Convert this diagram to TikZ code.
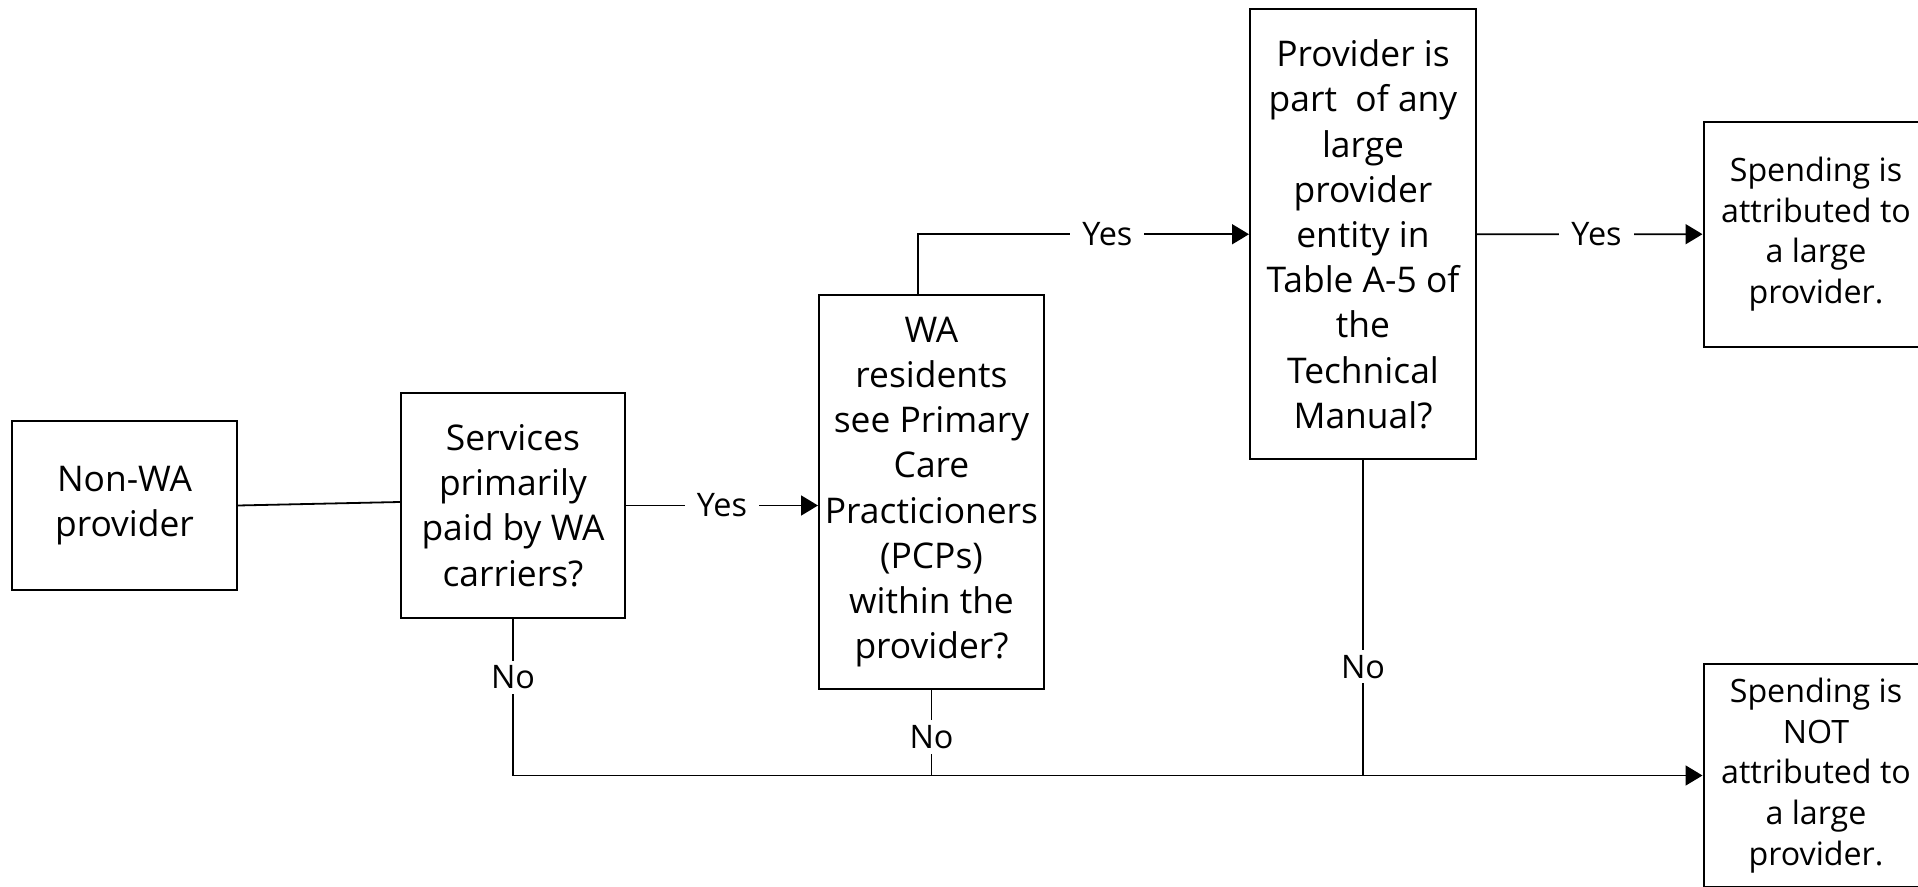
\documentclass[tikz,border=0pt]{standalone}
\usepackage{fontspec}
\setmainfont{Open Sans}
\usetikzlibrary{arrows.meta}
\tikzset{
  box/.style={draw, line width=1pt, align=center, inner sep=0pt,
    font=\fontsize{17.7pt}{22.6pt}\selectfont},
  endbox/.style={box, font=\fontsize{16.1pt}{20.3pt}\selectfont},
  lbl/.style={fill=white, inner xsep=6pt, inner ysep=2.5pt,
    font=\fontsize{16.2pt}{18pt}\selectfont},
}
\begin{document}
\begin{tikzpicture}[->, >={Triangle[length=8.5pt, width=10pt]}, line width=0.9pt, x=0.5pt, y=-0.5pt]
\useasboundingbox (0,0) rectangle (1918,887);
\clip (0,0) rectangle (1918,887);
% Nodes
\node [box, minimum width=112.5pt, minimum height=84.5pt] (nonwa) at (124.5,505.5) {Non-WA\\provider};
\node [box, minimum width=112pt, minimum height=112.5pt] (paid) at (513,505.5) {Services\\primarily\\paid by WA\\carriers?};
\node [box, minimum width=112.5pt, minimum height=197pt] (pcp) at (931.5,492) {WA\\residents\\see Primary\\Care\\Practicioners\\(PCPs)\\within the\\provider?};
\node [box, minimum width=113pt, minimum height=224.75pt] (entity) at (1363,234.25) {Provider is\\part\ \ of any\\large\\provider\\entity in\\Table A-5 of\\the\\Technical\\Manual?};
\node [endbox, minimum width=112.5pt, minimum height=112.5pt] (large) at (1816,234.2) {Spending is\\attributed to\\a large\\provider.};
\node [endbox, minimum width=112.5pt, minimum height=111.5pt] (notlarge) at (1816,775.5) {Spending is\\NOT\\attributed to\\a large\\provider.};
% Edges
% ---
% Yes
% ---
\draw [-] (nonwa.east) -- ([yshift=1.75pt]paid.west);
\draw (paid.east) -- node [lbl] {Yes} (paid.east -| pcp.west);
\draw ([xshift=-6.75pt]pcp.north) |- node [lbl, pos=0.786] {Yes} (entity.west);
\draw (entity.east) -- node [lbl, pos=0.53] {Yes} (large.west);
% ---
% No
% ---
\draw (paid.south) |- node [lbl, pos=0.187] {No} (notlarge.west);
\draw [-] (pcp.south) -- node [lbl, pos=0.55] {No} (pcp.south |- notlarge.west);
\draw [-] (entity.south) -- node [lbl, pos=0.655] {No} (entity.south |- notlarge.west);
\end{tikzpicture}
\end{document}
